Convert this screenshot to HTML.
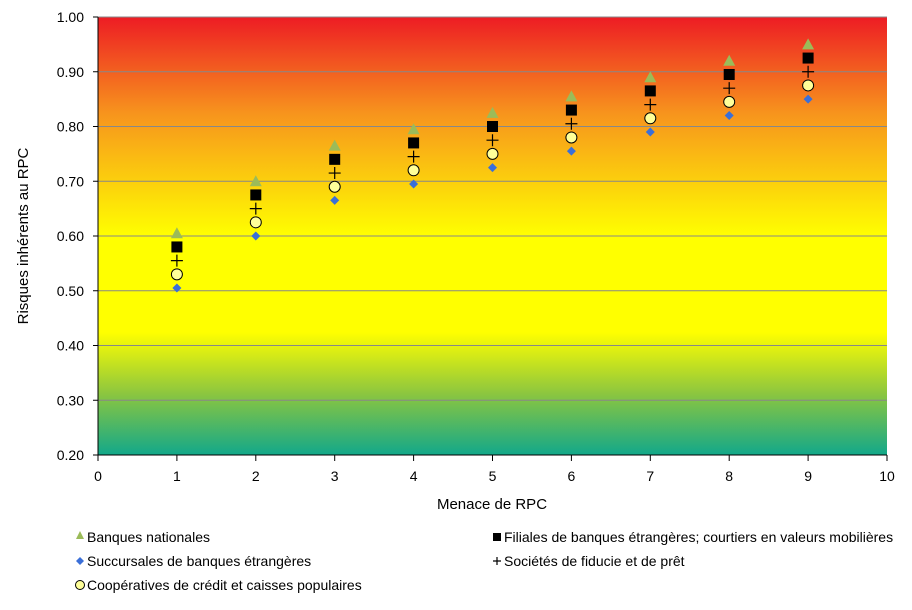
<!DOCTYPE html>
<html><head><meta charset="utf-8"><style>
body{margin:0;background:#fff;width:912px;height:605px;overflow:hidden;font-family:"Liberation Sans",sans-serif}
svg text{font-family:"Liberation Sans",sans-serif}
</style></head><body>
<svg id="chart" width="912" height="605">
<defs><linearGradient id="bg" x1="0" y1="0" x2="0" y2="1">
<stop offset="0" stop-color="#ed1c24"/><stop offset="0.22" stop-color="#f7941d"/>
<stop offset="0.5" stop-color="#ffff00"/><stop offset="0.72" stop-color="#ffff00"/>
<stop offset="0.86" stop-color="#8cc63f"/><stop offset="1" stop-color="#12a88a"/></linearGradient></defs>
<rect x="98" y="17" width="789" height="438" fill="url(#bg)"/>
<g id="grid"></g><g id="axes"></g><g id="marks"></g>
<text x="492" y="509" text-anchor="middle" font-size="15">Menace de RPC</text>
<text transform="translate(28,236) rotate(-90)" text-anchor="middle" font-size="15">Risques inhérents au RPC</text>
<g font-size="14">
<g><polygon points="80,531 76,539 84,539" fill="#9bbb59"/><text x="87" y="542">Banques nationales</text></g>
<g><rect x="493" y="533" width="8" height="8" fill="#000"/><text x="504" y="542">Filiales de banques étrangères; courtiers en valeurs mobilières</text></g>
<g><polygon points="80,557 84,561 80,565 76,561" fill="#3a6fd8"/><text x="87" y="566">Succursales de banques étrangères</text></g>
<g><path d="M493,561h8M497,557v8" stroke="#000" stroke-width="1.2"/><text x="504" y="566">Sociétés de fiducie et de prêt</text></g>
<g><circle cx="80" cy="585" r="4.5" fill="#ffff99" stroke="#000"/><text x="87" y="590">Coopératives de crédit et caisses populaires</text></g>
</g>
</svg>
<script>
const xs=[1,2,3,4,5,6,7,8,9];
const banques=[0.605,0.70,0.765,0.795,0.825,0.855,0.89,0.92,0.95];
const filiales=[0.58,0.675,0.74,0.77,0.80,0.83,0.865,0.895,0.925];
const fiducie=[0.555,0.65,0.715,0.745,0.775,0.805,0.84,0.87,0.90];
const coop=[0.53,0.625,0.69,0.72,0.75,0.78,0.815,0.845,0.875];
const succ=[0.505,0.60,0.665,0.695,0.725,0.755,0.79,0.82,0.85];
const xTicks=[0,1,2,3,4,5,6,7,8,9,10];
const yTicks=[0.2,0.3,0.4,0.5,0.6,0.7,0.8,0.9,1.0];
const NS="http://www.w3.org/2000/svg";
const X=v=>98+v*78.9, Y=v=>455-(v-0.2)/0.8*438;
function mk(t,a,p){const e=document.createElementNS(NS,t);for(const k in a)e.setAttribute(k,a[k]);p.appendChild(e);return e;}
const grid=document.getElementById('grid'),axes=document.getElementById('axes'),marks=document.getElementById('marks');
yTicks.forEach(v=>{
 if(v>0.2){const l=mk('line',{x1:98,x2:887,y1:Y(v),y2:Y(v),stroke:'#888','stroke-width':1},grid);
 
 }
 const t=mk('text',{x:84,y:Y(v)+5,'text-anchor':'end','font-size':14},axes);t.textContent=v.toFixed(2);
 
 
 mk('line',{x1:93,x2:98,y1:Y(v),y2:Y(v),stroke:'#000'},axes);
});
xTicks.forEach(v=>{
 const t=mk('text',{x:X(v),y:481,'text-anchor':'middle','font-size':14},axes);t.textContent=v;
 
 
 mk('line',{x1:X(v),x2:X(v),y1:455,y2:461,stroke:'#000'},axes);
});
mk('line',{x1:98,x2:98,y1:17,y2:455,stroke:'#000'},axes);
mk('line',{x1:98,x2:887,y1:455,y2:455,stroke:'#000'},axes);
xs.forEach((x,i)=>{
 const cx=X(x);let e,y;
 y=Y(banques[i]);e=mk('polygon',{points:`${cx},${y-6} ${cx-6},${y+5} ${cx+6},${y+5}`,fill:'#9bbb59'},marks);
 
 
 y=Y(filiales[i]);e=mk('rect',{x:cx-5.5,y:y-5.5,width:11,height:11,fill:'#000'},marks);
 
 
 y=Y(fiducie[i]);e=mk('path',{d:`M${cx-6},${y}h12M${cx},${y-6}v12`,stroke:'#000','stroke-width':1.2},marks);
 
 
 y=Y(coop[i]);e=mk('circle',{cx:cx,cy:y,r:5.5,fill:'#ffff99',stroke:'#000'},marks);
 
 
 y=Y(succ[i]);e=mk('polygon',{points:`${cx},${y-4.5} ${cx+4.5},${y} ${cx},${y+4.5} ${cx-4.5},${y}`,fill:'#3a6fd8'},marks);
 
 
});
</script>
</body></html>
